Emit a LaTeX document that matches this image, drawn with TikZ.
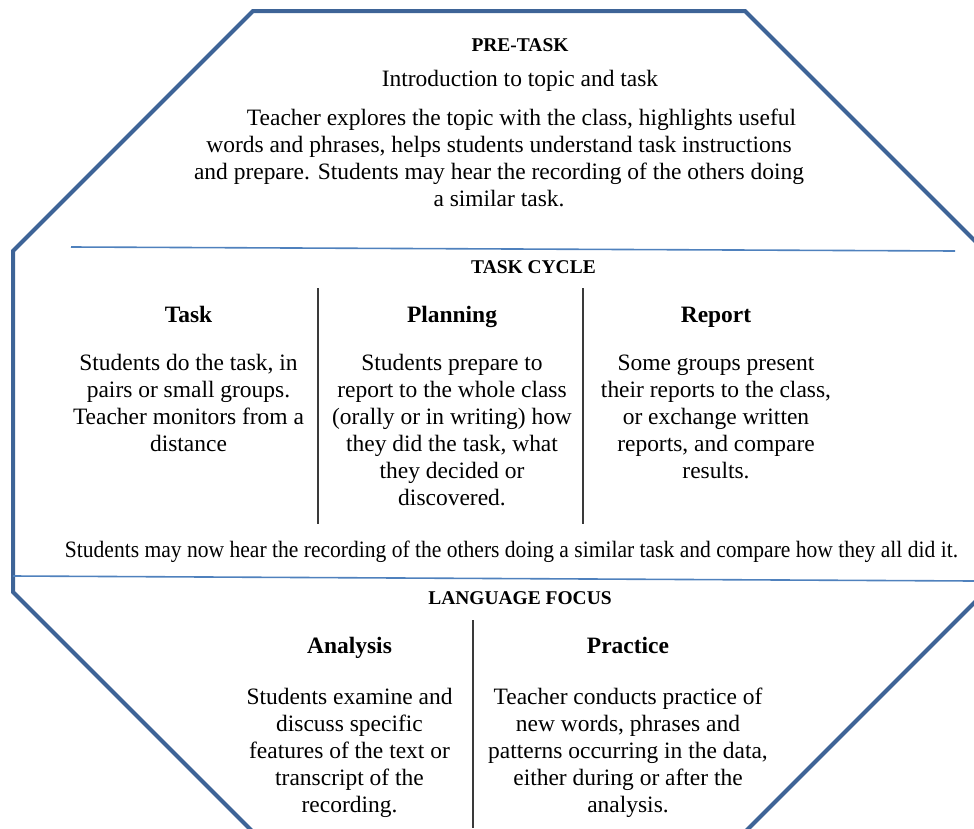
\documentclass[tikz,border=0pt]{standalone}
\usepackage{graphicx}
\usepackage{fontspec}
\setmainfont{Liberation Serif}
\usepackage{xcolor}
\usepackage{tikz}
\usetikzlibrary{positioning}
\definecolor{FrameBlue}{HTML}{3E6497}
\definecolor{RuleBlue}{HTML}{4F81BD}
\definecolor{SplitGrey}{HTML}{3A3A3A}
\tikzset{
    phasetitle/.style={font=\fontsize{14.6}{17}\selectfont\bfseries, inner sep=0pt, anchor=base},
    steptitle/.style={font=\fontsize{17.6}{20.25}\selectfont\bfseries, inner sep=0pt, anchor=base},
    stepbody/.style={font=\fontsize{17.6}{20.25}\selectfont, align=center, inner sep=0pt, anchor=base}
}

\begin{document}
\begin{tikzpicture}[x=0.75pt, y=-0.75pt,
        frame/.style={draw=FrameBlue, line width=3pt, line join=miter},
        band/.style={draw=RuleBlue, line width=1.2pt},
        split/.style={draw=SplitGrey, line width=1.1pt}]
        \useasboundingbox (0,0) rectangle (974,828);
        \begin{scope}
            \clip (0,0) rectangle (974,828);
            \draw[frame] (253,11) -- (745,11) -- (985,251) -- (985,592) -- (745,832)
                -- (253,832) -- (13,592) -- (13,251) -- cycle;
        \end{scope}
        \draw[band] (71,247) -- (955,251);
        \draw[band] (13,576) -- (974,581);
        \draw[split] (318,288) -- (318,524);
        \draw[split] (583,288) -- (583,524);
        \draw[split] (473,620) -- (473,828);

        % base of a multi-line node = baseline of its last line
        \node[phasetitle] (pretitle) at (520,51) {PRE-TASK};
        \node[stepbody, below=26.25pt of pretitle.base, anchor=base] (preintro) {Introduction to topic and task};
        \node[stepbody] (pretext) at (499,206) {\hspace*{33.75pt}Teacher explores the topic with the class, highlights useful\\
            words and phrases, helps students understand task instructions\\
            and prepare. Students may hear the recording of the others doing\\
            a similar task.};

        \node[phasetitle] (cycletitle) at (533.5,273) {TASK CYCLE};
        \node[steptitle] (tasktitle) at (188.5,322) {Task};
        \node[steptitle] (plantitle) at (452,322) {Planning};
        \node[steptitle] (reporttitle) at (716,322) {Report};
        \node[stepbody, below=96.75pt of tasktitle.base, anchor=base] (tasktext) {Students do the task, in\\
            pairs or small groups.\\ Teacher monitors from a\\ distance};
        \node[stepbody, below=137.25pt of plantitle.base, anchor=base] (plantext) {Students prepare to\\
            report to the whole class\\ (orally or in writing) how\\ they did the task, what\\
            they decided or\\ discovered.};
        \node[stepbody, below=117pt of reporttitle.base, anchor=base] (reporttext) {Some groups present\\
            their reports to the class,\\ or exchange written\\ reports, and compare\\ results.};

        \node[stepbody] (hearline) at (511.5,557) {\resizebox{669.75pt}{\height}{Students may now hear the recording of the others doing a similar task and compare how they all did it.}};

        \node[phasetitle] (focustitle) at (520,604) {LANGUAGE FOCUS};
        \node[steptitle] (analysistitle) at (349.5,653) {Analysis};
        \node[steptitle] (practicetitle) at (628,653) {Practice};
        \node[stepbody, below=119.25pt of analysistitle.base, anchor=base] (analysistext) {Students examine and\\
            discuss specific\\ features of the text or\\ transcript of the\\ recording.};
        \node[stepbody, below=119.25pt of practicetitle.base, anchor=base] (practicetext) {Teacher conducts practice of\\
            new words, phrases and\\ patterns occurring in the data,\\ either during or after the\\ analysis.};
    \end{tikzpicture}
\end{document}
